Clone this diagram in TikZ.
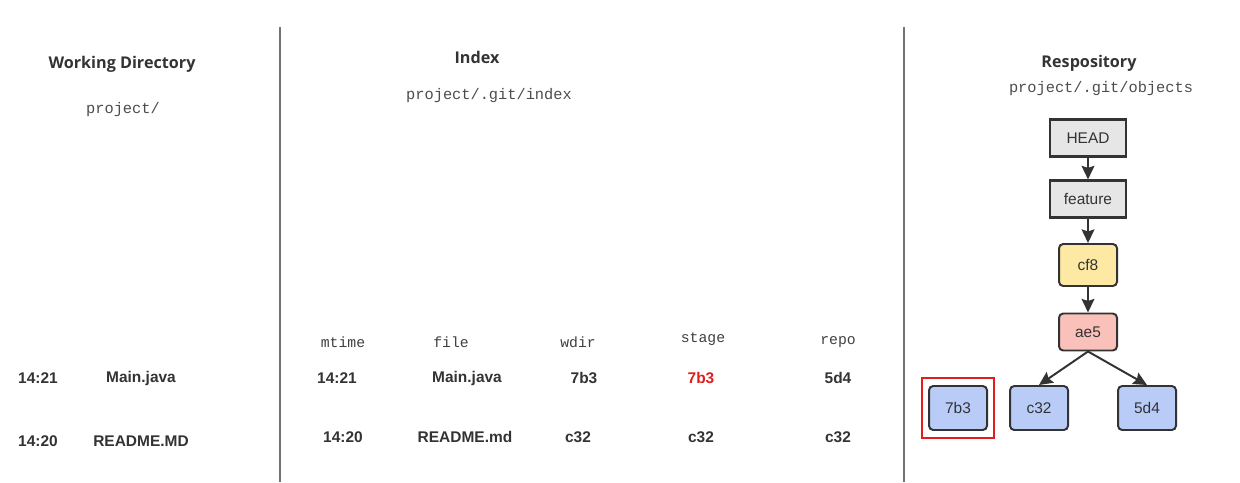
\documentclass[tikz,border=0pt]{standalone}
\usepackage{fontspec}
\setmainfont{Liberation Sans}
\setmonofont{Liberation Mono}
\newfontfamily\headfont{Open Sans}
\usetikzlibrary{arrows.meta}
\definecolor{edgegray}{HTML}{333333}
\definecolor{refgray}{HTML}{E6E6E6}
\definecolor{commityellow}{HTML}{FDE9A3}
\definecolor{treepink}{HTML}{F9C1B9}
\definecolor{blobblue}{HTML}{B8CCF7}
\definecolor{markred}{HTML}{E01E1E}
\tikzset{
    title/.style={font=\headfont\bfseries\fontsize{11.5}{14}\selectfont, text=edgegray},
    path/.style={font=\ttfamily\fontsize{10.9}{13}\selectfont, text=black!70},
    colhead/.style={font=\ttfamily\fontsize{10.5}{13}\selectfont, text=black!75},
    cell/.style={font=\bfseries\fontsize{11}{13}\selectfont, text=edgegray},
    ref/.style={draw=edgegray, line width=1.5pt, fill=refgray, minimum width=76\pxu, minimum height=37\pxu,
        font=\fontsize{11}{13}\selectfont, text=edgegray, inner sep=0pt},
    obj/.style={draw=edgegray, line width=1.4pt, rounded corners=3pt, minimum width=58\pxu, minimum height=42\pxu,
        font=\fontsize{11}{13}\selectfont, text=edgegray, inner sep=0pt},
    link/.style={-{Stealth[length=3.4mm,width=3.2mm,inset=0.5mm]}, line width=1.4pt, draw=edgegray}
}
\newcommand{\pxu}{*0.025cm}
\begin{document}
\begin{tikzpicture}[x=0.025cm, y=-0.025cm]
      \useasboundingbox (0, 0) rectangle (1240, 482);
      % column separators
      \draw[black!55, line width=0.8pt] (280, 27) -- (280, 482);
      \draw[black!55, line width=0.8pt] (904, 27) -- (904, 482);
      % working directory
      \node[title] (wdtitle) at (122, 64) {Working Directory};
      \node[path] (wdpath) at (123, 110) {project/};
      \node[cell] (wdtimea) at (38, 378) {14:21};
      \node[cell] (wdfilea) at (141, 378) {Main.java};
      \node[cell] (wdtimeb) at (38, 441) {14:20};
      \node[cell] (wdfileb) at (141, 441) {README.MD};
      % index
      \node[title] (ixtitle) at (477, 57) {Index};
      \node[path] (ixpath) at (489, 96) {project/.git/index};
      \node[colhead] (hmtime) at (343, 342) {mtime};
      \node[colhead] (hfile) at (451, 342) {file};
      \node[colhead] (hwdir) at (578, 342) {wdir};
      \node[colhead] (hstage) at (703, 339) {stage};
      \node[colhead] (hrepo) at (838, 342) {repo};
      \node[cell] (ixtimea) at (337, 378) {14:21};
      \node[cell] (ixfilea) at (467, 378) {Main.java};
      \node[cell] (ixwdira) at (584, 378) {7b3};
      \node[cell, text=markred] (ixstagea) at (701, 378) {7b3};
      \node[cell] (ixrepoa) at (838, 378) {5d4};
      \node[cell] (ixtimeb) at (343, 437) {14:20};
      \node[cell] (ixfileb) at (465, 437) {README.md};
      \node[cell] (ixwdirb) at (578, 437) {c32};
      \node[cell] (ixstageb) at (701, 437) {c32};
      \node[cell] (ixrepob) at (838, 437) {c32};
      % repository
      \node[title] (rptitle) at (1089, 63) {Respository};
      \node[path] (rppath) at (1101, 89) {project/.git/objects};
      \node[ref] (head) at (1088, 138) {HEAD};
      \node[ref] (feature) at (1088, 199) {feature};
      \node[obj, fill=commityellow] (cf8) at (1088, 265) {cf8};
      \node[obj, fill=treepink, minimum height=37\pxu] (ae5) at (1088, 332) {ae5};
      \node[obj, fill=blobblue, minimum height=44\pxu] (b7b3) at (958, 408) {7b3};
      \node[obj, fill=blobblue, minimum height=44\pxu] (c32) at (1039, 408) {c32};
      \node[obj, fill=blobblue, minimum height=44\pxu] (d5d4) at (1147, 408) {5d4};
      \draw[markred, line width=1.2pt] (922, 378) rectangle (994, 438);
      \draw[link] (head) -- (feature);
      \draw[link] (feature) -- (cf8);
      \draw[link] (cf8) -- (ae5);
      \draw[link] (ae5.south) -- (c32.north);
      \draw[link] (ae5.south) -- (d5d4.north);
    \end{tikzpicture}
\end{document}
